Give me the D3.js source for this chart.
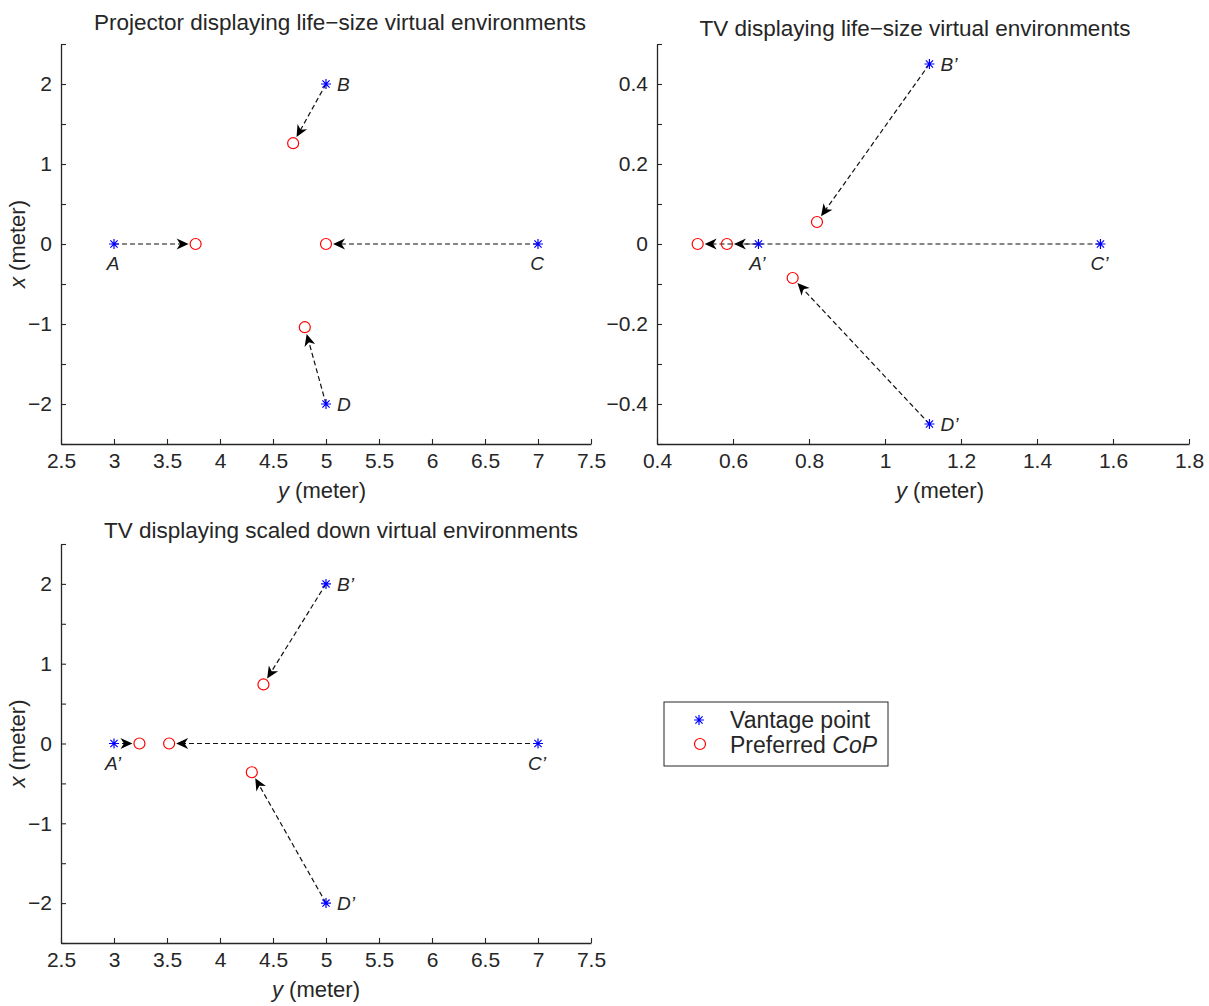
<!DOCTYPE html>
<html>
<head>
<meta charset="utf-8">
<script src="https://cdnjs.cloudflare.com/ajax/libs/d3/7.8.5/d3.min.js"></script>
<style>
  body { margin: 0; background: #fff; }
  svg text { font-family: "Liberation Sans", Arial, Helvetica, sans-serif; fill: #262626; }
</style>
</head>
<body>
<div class="svg"></div>
<script>
// panel 1: projector, life-size
var p1Labels = ['A', 'B', 'C', 'D'];
var p1VantY = [3, 5, 7, 5];
var p1VantX = [0, 2, 0, -2];
var p1CopY = [3.77, 4.69, 5.0, 4.80];
var p1CopX = [0, 1.26, 0, -1.04];

// panel 2: TV, life-size
var p2Labels = ["A\u2019", "B\u2019", "C\u2019", "D\u2019"];
var p2VantY = [0.667, 1.117, 1.567, 1.117];
var p2VantX = [0, 0.45, 0, -0.45];
var p2CopY = [0.584, 0.821, 0.507, 0.757];
var p2CopX = [0, 0.055, 0, -0.085];

// panel 3: TV, scaled down
var p3Labels = ["A\u2019", "B\u2019", "C\u2019", "D\u2019"];
var p3VantY = [3, 5, 7, 5];
var p3VantX = [0, 2, 0, -2];
var p3CopY = [3.24, 4.41, 3.52, 4.30];
var p3CopX = [0, 0.74, 0, -0.36];

var ticksY1 = d3.range(-2.5, 2.51, 0.5);
var ticksX1 = d3.range(2.5, 7.51, 0.5);
var ticksY2 = d3.range(-0.5, 0.51, 0.1);
var ticksX2 = d3.range(0.4, 1.81, 0.2);

var width = 1209;
var height = 1006;
var ink = '#262626';

var svg = d3.select('div.svg')
    .append('svg')
    .attr('width', width)
    .attr('height', height);

function minus(s) { return s.replace('-', '\u2212'); }

function panel(opt) {
    var x = d3.scaleLinear().domain(opt.xDomain).range(opt.xRange);
    var y = d3.scaleLinear().domain(opt.yDomain).range(opt.yRange);
    var g = svg.append('g');

    var xAxis = d3.axisBottom(x)
        .tickValues(opt.xTicks)
        .tickSize(-5)
        .tickSizeOuter(0)
        .tickPadding(9)
        .tickFormat(opt.xFormat);
    var yAxis = d3.axisLeft(y)
        .tickValues(opt.yTicks)
        .tickSize(-5)
        .tickSizeOuter(0)
        .tickPadding(9)
        .tickFormat(opt.yFormat);

    var gx = g.append('g')
        .attr('transform', 'translate(0,' + opt.yRange[0] + ')')
        .call(xAxis);
    var gy = g.append('g')
        .attr('transform', 'translate(' + opt.xRange[0] + ',0)')
        .call(yAxis);
    [gx, gy].forEach(function (a) {
        a.select('.domain').attr('stroke', ink).attr('stroke-width', 1.3);
        a.selectAll('.tick line').attr('stroke', ink).attr('stroke-width', 1.1);
        a.selectAll('.tick text').attr('font-size', 21).attr('fill', ink)
            .style('font-family', '"Liberation Sans", Arial, sans-serif');
    });

    // title
    g.append('text')
        .attr('x', opt.titleX)
        .attr('y', opt.titleY)
        .attr('text-anchor', 'middle')
        .attr('font-size', 22.5)
        .text(opt.title);

    // x label ("y (meter)")
    var xl = g.append('text')
        .attr('x', opt.xLabelX)
        .attr('y', opt.yRange[0] + 54)
        .attr('text-anchor', 'middle')
        .attr('font-size', 22);
    xl.append('tspan').attr('font-style', 'italic').text('y');
    xl.append('tspan').text(' (meter)');

    if (opt.yLabel) {
        var cy = (opt.yRange[0] + opt.yRange[1]) / 2;
        var yl = g.append('text')
            .attr('transform', 'translate(25,' + cy + ') rotate(-90)')
            .attr('text-anchor', 'middle')
            .attr('font-size', 22);
        yl.append('tspan').attr('font-style', 'italic').text('x');
        yl.append('tspan').text(' (meter)');
    }

    var pts = opt.labels.map(function (l, i) {
        return {
            label: l,
            vx: x(opt.vantY[i]), vy: y(opt.vantX[i]),
            cx: x(opt.copY[i]), cy: y(opt.copX[i]),
            onAxis: opt.vantX[i] === 0
        };
    });

    // dashed arrows from vantage point to preferred CoP
    var r = 5.5;
    var arrows = g.append('g').selectAll('g.arrow')
        .data(pts)
        .enter()
        .append('g')
        .attr('class', 'arrow');
    arrows.append('line')
        .attr('x1', d => d.vx)
        .attr('y1', d => d.vy)
        .attr('x2', function (d) {
            var dx = d.cx - d.vx, dy = d.cy - d.vy, L = Math.hypot(dx, dy);
            return d.cx - dx / L * (r + 9);
        })
        .attr('y2', function (d) {
            var dx = d.cx - d.vx, dy = d.cy - d.vy, L = Math.hypot(dx, dy);
            return d.cy - dy / L * (r + 9);
        })
        .attr('stroke', '#111')
        .attr('stroke-width', 1.2)
        .attr('stroke-dasharray', '5,3');
    arrows.append('path')
        .attr('d', 'M0,0 L-12,-5.5 L-8.5,0 L-12,5.5 Z')
        .attr('fill', '#000')
        .attr('transform', function (d) {
            var dx = d.cx - d.vx, dy = d.cy - d.vy, L = Math.hypot(dx, dy);
            var tx = d.cx - dx / L * (r + 1.5), ty = d.cy - dy / L * (r + 1.5);
            var ang = Math.atan2(dy, dx) * 180 / Math.PI;
            return 'translate(' + tx + ',' + ty + ') rotate(' + ang + ')';
        });

    // preferred CoP circles
    g.append('g').selectAll('circle')
        .data(pts)
        .enter()
        .append('circle')
        .attr('cx', d => d.cx)
        .attr('cy', d => d.cy)
        .attr('r', r)
        .attr('fill', 'none')
        .attr('stroke', '#ff0000')
        .attr('stroke-width', 1.2);

    // vantage point asterisks
    g.append('g').selectAll('path.star')
        .data(pts)
        .enter()
        .append('path')
        .attr('class', 'star')
        .attr('d', star(5))
        .attr('transform', d => 'translate(' + d.vx + ',' + d.vy + ')')
        .attr('stroke', '#0000ff')
        .attr('stroke-width', 1.2)
        .attr('fill', 'none');

    // point labels
    g.append('g').selectAll('text')
        .data(pts)
        .enter()
        .append('text')
        .attr('x', d => d.onAxis ? d.vx - 1 : d.vx + 11)
        .attr('y', d => d.onAxis ? d.vy + 26 : d.vy + 7)
        .attr('text-anchor', d => d.onAxis ? 'middle' : 'start')
        .attr('font-size', 19)
        .attr('font-style', 'italic')
        .text(d => d.label);
}

function star(s) {
    var k = s * 0.72;
    return 'M' + (-s) + ',0H' + s + 'M0,' + (-s) + 'V' + s +
        'M' + (-k) + ',' + (-k) + 'L' + k + ',' + k +
        'M' + (-k) + ',' + k + 'L' + k + ',' + (-k);
}

panel({
    title: 'Projector displaying life\u2212size virtual environments',
    titleX: 340, titleY: 30,
    xDomain: [2.5, 7.5], xRange: [61, 591],
    yDomain: [-2.5, 2.5], yRange: [444, 44],
    xTicks: ticksX1, yTicks: ticksY1,
    xFormat: d => minus(d3.format('~g')(+d.toFixed(2))),
    yFormat: d => Math.abs(d % 1) < 1e-6 ? minus(String(Math.round(d))) : '',
    xLabelX: 322, yLabel: true,
    labels: p1Labels, vantY: p1VantY, vantX: p1VantX, copY: p1CopY, copX: p1CopX
});

panel({
    title: 'TV displaying life\u2212size virtual environments',
    titleX: 915, titleY: 36,
    xDomain: [0.4, 1.8], xRange: [657, 1189],
    yDomain: [-0.5, 0.5], yRange: [444, 44],
    xTicks: ticksX2, yTicks: ticksY2,
    xFormat: d => minus(d3.format('~g')(+d.toFixed(2))),
    yFormat: function (d) {
        var v = Math.round(d * 10);
        return v % 2 === 0 ? minus(d3.format('~g')(v / 10)) : '';
    },
    xLabelX: 940, yLabel: false,
    labels: p2Labels, vantY: p2VantY, vantX: p2VantX, copY: p2CopY, copX: p2CopX
});

panel({
    title: 'TV displaying scaled down virtual environments',
    titleX: 341, titleY: 538,
    xDomain: [2.5, 7.5], xRange: [61, 591],
    yDomain: [-2.5, 2.5], yRange: [943, 544],
    xTicks: ticksX1, yTicks: ticksY1,
    xFormat: d => minus(d3.format('~g')(+d.toFixed(2))),
    yFormat: d => Math.abs(d % 1) < 1e-6 ? minus(String(Math.round(d))) : '',
    xLabelX: 316, yLabel: true,
    labels: p3Labels, vantY: p3VantY, vantX: p3VantX, copY: p3CopY, copX: p3CopX
});

// legend
var legend = svg.append('g').attr('transform', 'translate(664,702)');
legend.append('rect')
    .attr('width', 224)
    .attr('height', 64)
    .attr('fill', '#fff')
    .attr('stroke', ink)
    .attr('stroke-width', 1);
legend.append('path')
    .attr('d', star(5))
    .attr('transform', 'translate(35,18)')
    .attr('stroke', '#0000ff')
    .attr('stroke-width', 1.2)
    .attr('fill', 'none');
legend.append('circle')
    .attr('cx', 36).attr('cy', 42).attr('r', 5.5)
    .attr('fill', 'none').attr('stroke', '#ff0000').attr('stroke-width', 1.2);
legend.append('text')
    .attr('x', 66).attr('y', 26)
    .attr('font-size', 23)
    .text('Vantage point');
var lt = legend.append('text')
    .attr('x', 66).attr('y', 51)
    .attr('font-size', 23);
lt.append('tspan').text('Preferred ');
lt.append('tspan').attr('font-style', 'italic').text('CoP');
</script>
</body>
</html>
